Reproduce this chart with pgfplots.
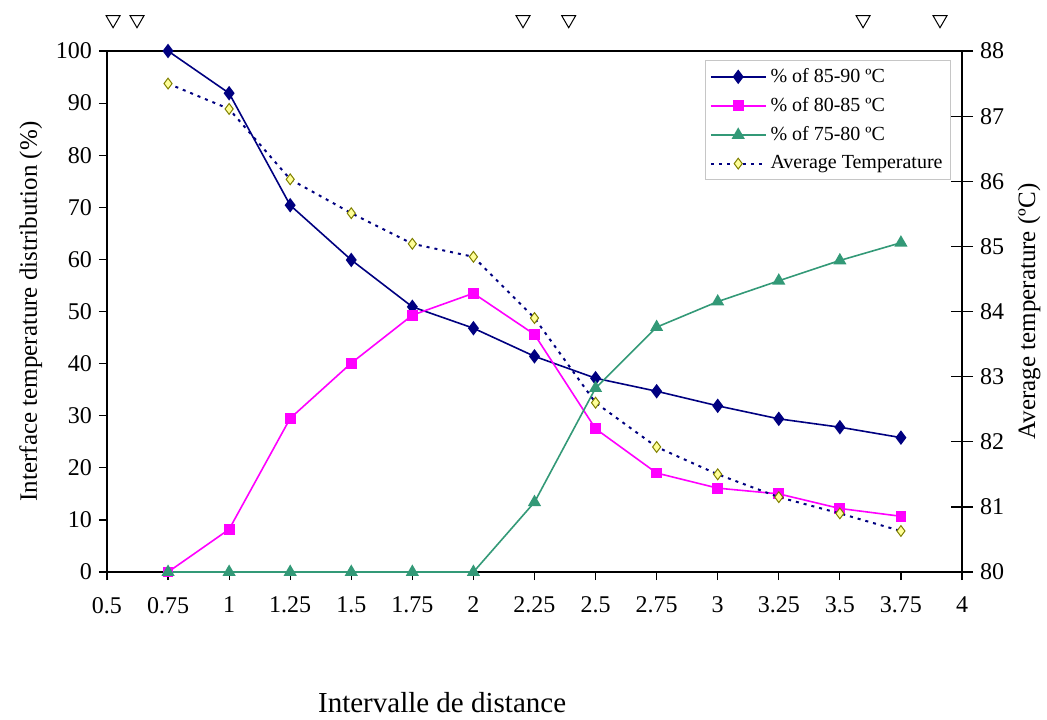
\documentclass[border=0pt]{standalone}
\usepackage{fontspec}
\setmainfont{Liberation Serif}
\usepackage{pgfplots}
\pgfplotsset{compat=1.18}

\definecolor{navyline}{HTML}{000080}
\definecolor{pinkish}{HTML}{FF00FF}
\definecolor{sea}{HTML}{339977}
\definecolor{avgfill}{HTML}{FFFF99}
\definecolor{avgedge}{HTML}{808000}

\pgfplotsset{
  base/.style={
    scale only axis, width=427.5pt, height=260.5pt,
    xmin=0.5, xmax=4,
    /pgf/number format/assume math mode=true,
    ticklabel style={font=\fontsize{12}{14}\selectfont},
    label style={font=\fontsize{12.5}{14}\selectfont},
    axis line style={line width=0.7pt},
    major tick style={line width=0.6pt, black},
  }
}

\begin{document}
\begin{tikzpicture}
\begin{axis}[base,
    ymin=0, ymax=100, ytick={0,10,...,100},
    xtick={0.5,0.75,1,1.25,1.5,1.75,2,2.25,2.5,2.75,3,3.25,3.5,3.75,4},
    xticklabels={0.5,0.75,1,1.25,1.5,1.75,2,2.25,2.5,2.75,3,3.25,3.5,3.75,4},
    xtick pos=bottom, ytick pos=left, tick align=outside,
    major tick length=4pt,
    xticklabel style={yshift=-5pt},
    clip=false,
    ylabel={Interface temperature distribution (\%)},
  ]
  % % of 85-90
  \addplot[navyline, line width=0.8pt, mark=diamond*, mark size=3pt] coordinates {
    (0.75,100) (1,91.9) (1.25,70.4) (1.5,59.9) (1.75,50.9) (2,46.8)
    (2.25,41.4) (2.5,37.2) (2.75,34.7) (3,31.9) (3.25,29.4) (3.5,27.8) (3.75,25.8)
  };
  % % of 80-85
  \addplot[pinkish, line width=0.8pt, mark=square*, mark size=2.3pt] coordinates {
    (0.75,0) (1,8.2) (1.25,29.5) (1.5,40.1) (1.75,49.3) (2,53.5)
    (2.25,45.6) (2.5,27.5) (2.75,19) (3,16.1) (3.25,15) (3.5,12.2) (3.75,10.7)
  };
  % % of 75-80
  \addplot[sea, line width=0.8pt, mark=triangle*, mark size=3pt] coordinates {
    (0.75,0) (1,0) (1.25,0) (1.5,0) (1.75,0) (2,0)
    (2.25,13.4) (2.5,35.3) (2.75,47) (3,51.9) (3.25,55.9) (3.5,59.8) (3.75,63.2)
  };
  % marks above the plot
  \addplot[only marks, mark=triangle, mark size=4pt,
    mark options={rotate=180, black, line width=0.5pt}, forget plot] coordinates {
    (0.525,106) (0.623,106) (2.203,106) (2.39,106) (3.595,106) (3.91,106)
  };
  \node[font=\fontsize{14.5}{16}\selectfont] at (rel axis cs:0.392,-0.25) {Intervalle de distance};
\end{axis}

\begin{axis}[base,
    ymin=80, ymax=88, ytick={80,81,...,88},
    axis x line=none, axis y line*=right, tick align=center,
    major tick length=11pt,
    clip=false,
    ylabel={Average temperature (ºC)},
    legend cell align=left,
    legend style={at={(0.70,0.983)}, anchor=north west, draw=gray!45,
      font=\fontsize{10}{12}\selectfont, row sep=2pt, inner sep=2pt},
    legend image code/.code={\draw[mark repeat=2, mark phase=2] plot coordinates {(0cm,0cm) (0.48cm,0cm) (0.96cm,0cm)};},
  ]
  \addlegendimage{navyline, line width=0.8pt, mark=diamond*, mark size=3pt}
  \addlegendentry{\% of 85-90 ºC}
  \addlegendimage{pinkish, line width=0.8pt, mark=square*, mark size=2.3pt}
  \addlegendentry{\% of 80-85 ºC}
  \addlegendimage{sea, line width=0.8pt, mark=triangle*, mark size=3pt}
  \addlegendentry{\% of 75-80 ºC}
  \addplot[navyline, line width=1pt, dash pattern=on 1.5pt off 2.5pt,
    mark=diamond*, mark size=2.7pt,
    mark options={solid, fill=avgfill, draw=avgedge, line width=0.5pt}] coordinates {
    (0.75,87.5) (1,87.11) (1.25,86.03) (1.5,85.51) (1.75,85.04) (2,84.84)
    (2.25,83.9) (2.5,82.6) (2.75,81.92) (3,81.5) (3.25,81.15) (3.5,80.9) (3.75,80.63)
  };
  \addlegendentry{Average Temperature}
  \coordinate (bbsw) at (rel axis cs:-0.1251,-0.2821);
  \coordinate (bbne) at (rel axis cs:1.0994,1.0979);
\end{axis}
\pgfresetboundingbox
\path (bbsw) rectangle (bbne);
\end{tikzpicture}
\end{document}
